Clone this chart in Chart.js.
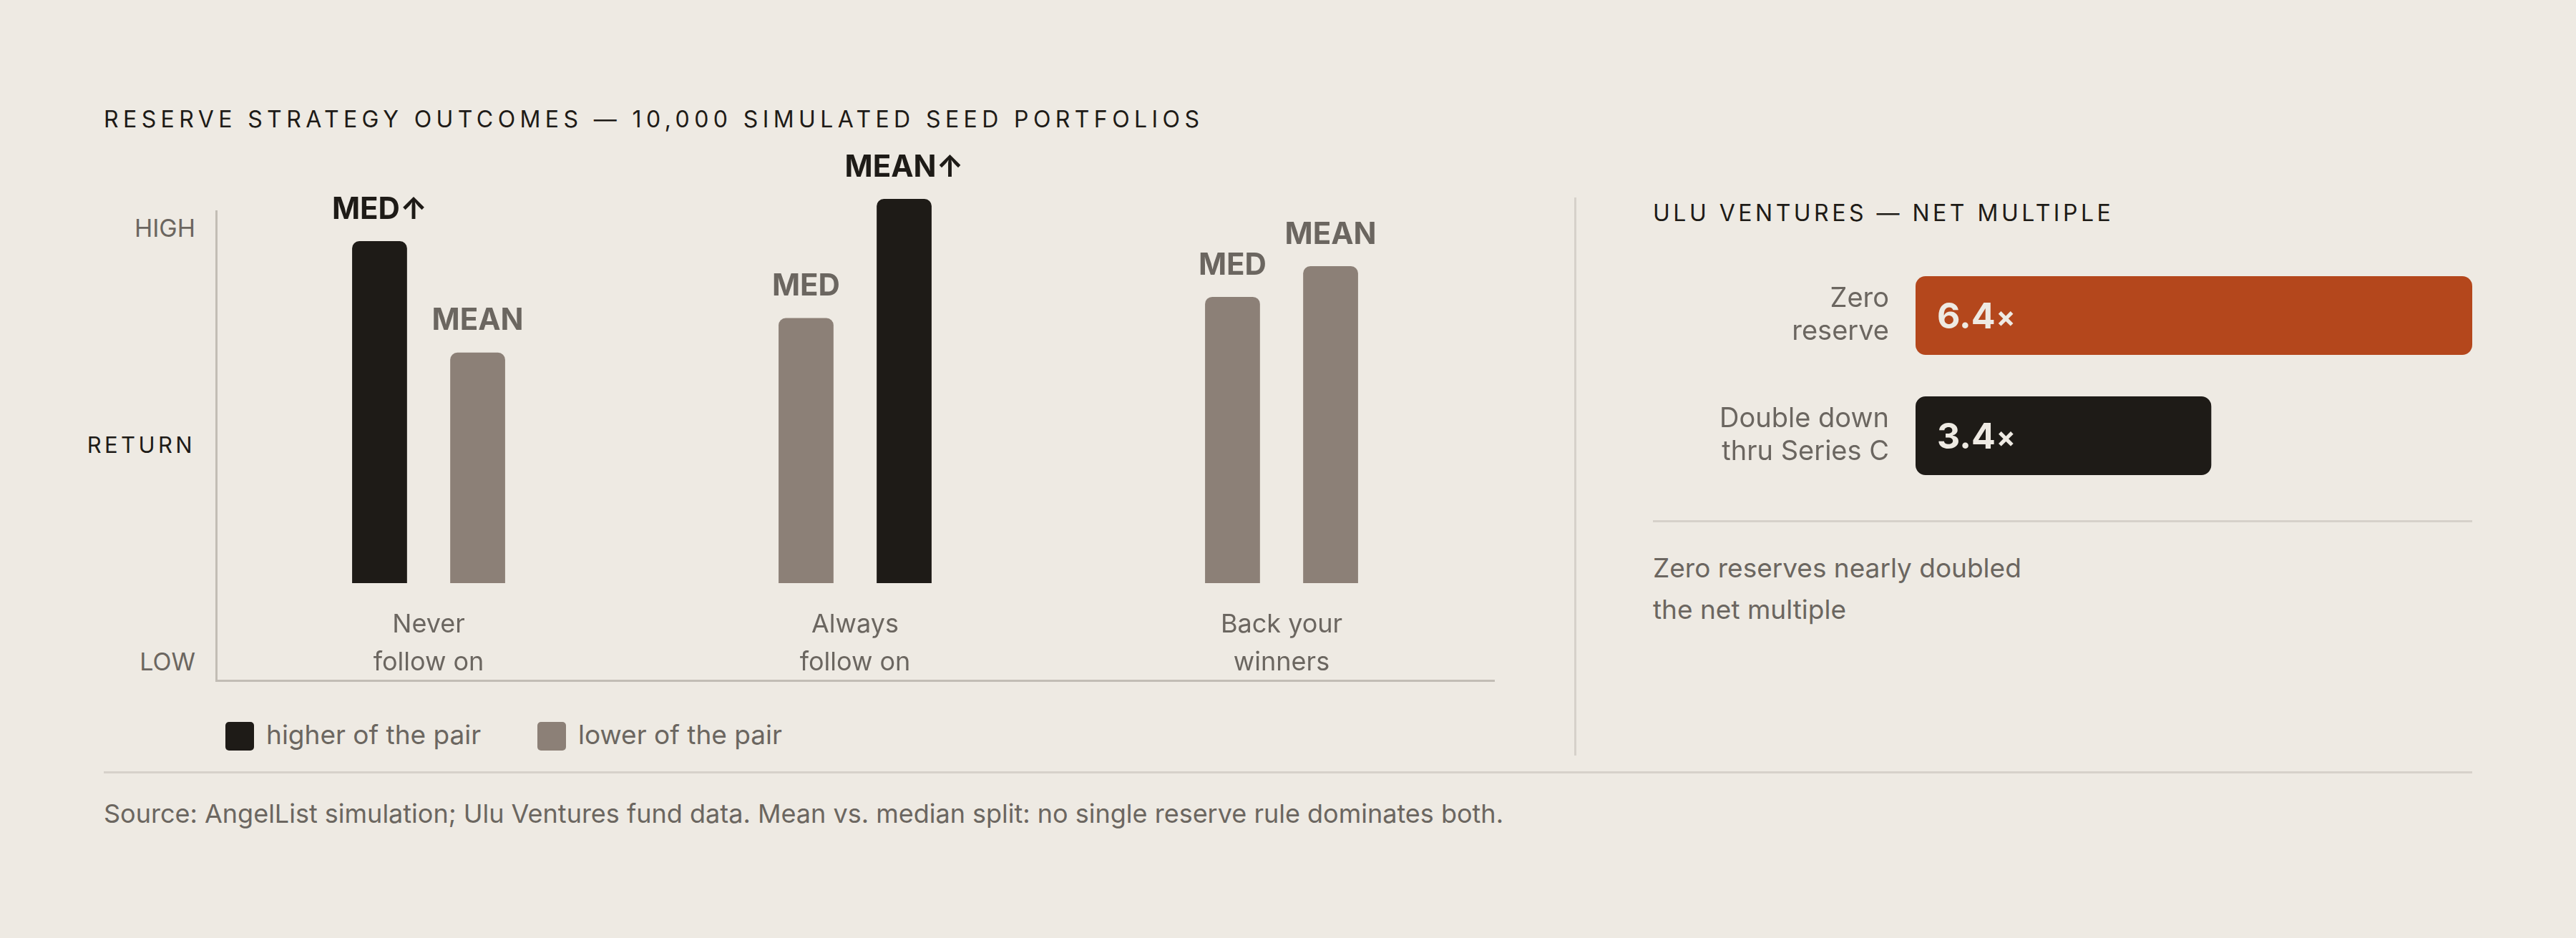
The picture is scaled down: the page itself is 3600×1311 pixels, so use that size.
<!DOCTYPE html>
<html>
<head>
<meta charset="utf-8">
<title>Reserve strategy outcomes</title>
<script src="https://cdn.jsdelivr.net/npm/chart.js@4.4.1/dist/chart.umd.min.js"></script>
<style>
html, body { margin: 0; padding: 0; background: #eeeae3; }
body { width: 3600px; height: 1311px; position: relative; overflow: hidden; font-family: Inter, "DejaVu Sans", sans-serif; color: #6b6660; }
.abs { position: absolute; white-space: nowrap; }
.caps { color: #1e1b17; font-size: 32px; letter-spacing: 4px; line-height: 50px; }
.axis-word { left: 0; width: 273px; text-align: right; font-size: 34px; line-height: 50px; }
.rule { position: absolute; background: #d6d1ca; }
.swatch { position: absolute; width: 40px; height: 40px; border-radius: 5px; }
.legend-text { font-size: 37px; line-height: 50px; }
</style>
</head>
<body>

<div class="abs caps" style="left:145px; top:142px; letter-spacing:6.4px;">RESERVE STRATEGY OUTCOMES — 10,000 SIMULATED SEED PORTFOLIOS</div>

<div class="abs axis-word" style="top:294px;">HIGH</div>
<div class="abs axis-word" style="top:597px; color:#1e1b17; font-size:31px; letter-spacing:4.4px;">RETURN</div>
<div class="abs axis-word" style="top:900px;">LOW</div>

<div class="abs" style="left:301px; top:294px; width:1788px; height:659px; border-left:3px solid #c2bdb5; border-bottom:3px solid #c2bdb5; box-sizing:border-box;"></div>

<div class="abs" style="left:301px; top:180px; width:1788px; height:780px;">
  <canvas id="outcomes"></canvas>
</div>

<div class="swatch" style="left:315px; top:1009px; background:#1e1b17;"></div>
<div class="abs legend-text" style="left:372px; top:1002px;">higher of the pair</div>
<div class="swatch" style="left:751px; top:1009px; background:#8c8077;"></div>
<div class="abs legend-text" style="left:808px; top:1002px;">lower of the pair</div>

<div class="rule" style="left:2200px; top:276px; width:3px; height:780px;"></div>

<div class="abs caps" style="left:2310px; top:273px; letter-spacing:4.5px;">ULU VENTURES — NET MULTIPLE</div>

<div class="abs" style="left:2310px; top:300px; width:1145px; height:420px;">
  <canvas id="multiple"></canvas>
</div>

<div class="rule" style="left:2310px; top:727px; width:1145px; height:3px;"></div>
<div class="abs" style="left:2310px; top:765px; font-size:37px; line-height:58px;">Zero reserves nearly doubled<br>the net multiple</div>

<div class="rule" style="left:145px; top:1078px; width:3310px; height:3px;"></div>
<div class="abs" style="left:145px; top:1112px; font-size:36px; line-height:50px;">Source: AngelList simulation; Ulu Ventures fund data. Mean vs. median split: no single reserve rule dominates both.</div>

<script>
// left panel: relative return per strategy (no scale shown, 100 = tallest bar)
var strategies = [['Never', 'follow on'], ['Always', 'follow on'], ['Back your', 'winners']];
var medianReturn = [89, 69, 74.5];
var meanReturn = [60, 100, 82.5];
var medianTags = ['MED↑', 'MED', 'MED'];
var meanTags = ['MEAN', 'MEAN↑', 'MEAN'];
var medianIsHigher = [true, false, false];
var meanIsHigher = [false, true, false];

// right panel: Ulu Ventures net multiple
var funds = [['Zero', 'reserve'], ['Double down', 'thru Series C']];
var netMultiple = [6.4, 3.4];

var DARK = '#1e1b17';
var TAUPE = '#8c8077';
var MUTED = '#6b6660';
var RUST = '#b4471c';
var PAPER = '#eeeae3';
var FONT = 'Inter, "DejaVu Sans", sans-serif';

Chart.defaults.font.family = FONT;
Chart.defaults.animation = false;

var pickColors = function(flags, on, off) {
    return flags.map(function(f) { return f ? on : off; });
};

var barTags = {
    id: 'barTags',
    afterDatasetsDraw: function(chart) {
        var ctx = chart.ctx;
        var tagSets = [medianTags, meanTags];
        var flagSets = [medianIsHigher, meanIsHigher];
        ctx.save();
        ctx.font = 'bold 42px ' + FONT;
        ctx.textAlign = 'center';
        ctx.textBaseline = 'middle';
        chart.data.datasets.forEach(function(ds, i) {
            chart.getDatasetMeta(i).data.forEach(function(bar, j) {
                ctx.fillStyle = flagSets[i][j] ? DARK : MUTED;
                ctx.fillText(tagSets[i][j], bar.x, bar.y - 44);
            });
        });
        ctx.restore();
    }
};

var valueTags = {
    id: 'valueTags',
    afterDatasetsDraw: function(chart) {
        var ctx = chart.ctx;
        ctx.save();
        ctx.fillStyle = PAPER;
        ctx.textAlign = 'left';
        ctx.textBaseline = 'alphabetic';
        chart.getDatasetMeta(0).data.forEach(function(bar, j) {
            var num = netMultiple[j].toFixed(1);
            var x = bar.base + 30;
            var y = bar.y + 18;
            ctx.font = 'bold 50px ' + FONT;
            ctx.fillText(num, x, y);
            var w = ctx.measureText(num).width;
            ctx.font = 'bold 40px ' + FONT;
            ctx.fillText('×', x + w + 1, y - 2);
        });
        ctx.restore();
    }
};

new Chart(document.getElementById('outcomes'), {
    type: 'bar',
    data: {
        labels: strategies,
        datasets: [{
            label: 'Median',
            data: medianReturn,
            backgroundColor: pickColors(medianIsHigher, DARK, TAUPE)
        }, {
            label: 'Mean',
            data: meanReturn,
            backgroundColor: pickColors(meanIsHigher, DARK, TAUPE)
        }]
    },
    options: {
        responsive: true,
        maintainAspectRatio: false,
        categoryPercentage: 0.46,
        barPercentage: 0.56,
        borderRadius: { topLeft: 10, topRight: 10 },
        borderSkipped: 'bottom',
        layout: { padding: { top: 98, left: 0, right: 0, bottom: 0 } },
        plugins: { legend: { display: false }, tooltip: { enabled: false } },
        scales: {
            x: {
                grid: { display: false, drawTicks: false },
                border: { display: false },
                ticks: { color: MUTED, font: { size: 36, lineHeight: 1.47 }, padding: 32 },
                afterFit: function(scale) { scale.height = 145; }
            },
            y: { display: false, min: 0, max: 100 }
        }
    },
    plugins: [barTags]
});

new Chart(document.getElementById('multiple'), {
    type: 'bar',
    data: {
        labels: funds,
        datasets: [{
            label: 'Net multiple',
            data: netMultiple,
            backgroundColor: [RUST, DARK]
        }]
    },
    options: {
        indexAxis: 'y',
        responsive: true,
        maintainAspectRatio: false,
        categoryPercentage: 1,
        barPercentage: 0.655,
        borderRadius: 14,
        borderSkipped: false,
        layout: { padding: { top: 57, bottom: 27, left: 0, right: 0 } },
        plugins: { legend: { display: false }, tooltip: { enabled: false } },
        scales: {
            y: {
                grid: { display: false, drawTicks: false },
                border: { display: false },
                ticks: { color: MUTED, font: { size: 38, lineHeight: 1.21 }, padding: 37 },
                afterFit: function(scale) {
                    scale.width = 367;
                    scale.paddingTop = 0;
                    scale.paddingBottom = 0;
                }
            },
            x: { display: false, min: 0, max: 6.4 }
        }
    },
    plugins: [valueTags]
});
</script>
</body>
</html>
